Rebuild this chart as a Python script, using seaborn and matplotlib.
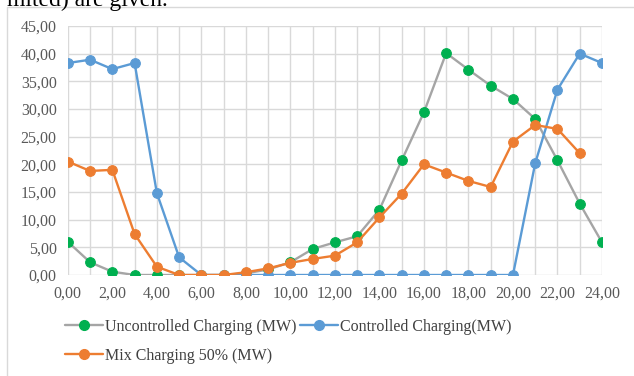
import pandas as pd
import seaborn as sns
import matplotlib.pyplot as plt
from matplotlib.patches import Rectangle
from matplotlib.lines import Line2D

hours = list(range(25))
uncontrolled = [6.0, 2.3, 0.6, 0.0, 0.0, 0.0, 0.0, 0.0, 0.3, 1.0, 2.3, 4.7, 5.9, 7.0, 11.8, 20.7,
                29.4, 40.1, 37.1, 34.2, 31.8, 28.2, 20.7, 12.9, 5.9]
controlled = [38.3, 38.9, 37.2, 38.3, 14.8, 3.2, 0.0, 0.0, 0.0, 0.0, 0.0, 0.0, 0.0, 0.0, 0.0, 0.0,
              0.0, 0.0, 0.0, 0.0, 0.0, 20.2, 33.5, 40.0, 38.3]
mix_hours = list(range(24))
mix = [20.5, 18.8, 19.0, 7.4, 1.5, 0.0, 0.0, 0.0, 0.5, 1.2, 2.2, 2.9, 3.5, 5.9, 10.4, 14.7,
       20.0, 18.5, 17.0, 15.9, 24.1, 27.1, 26.4, 22.0]

xticks = list(range(0, 25, 2))
xtick_labels = ['0,00', '2,00', '4,00', '6,00', '8,00', '10,00', '12,00', '14,00', '16,00',
                '18,00', '20,00', '22,00', '24,00']
yticks = list(range(0, 50, 5))
ytick_labels = ['0,00', '5,00', '10,00', '15,00', '20,00', '25,00', '30,00', '35,00', '40,00', '45,00']

labels = ['Uncontrolled Charging (MW)', 'Controlled Charging(MW)', 'Mix Charging 50% (MW)']

sns.set_style("white")
plt.rcParams['font.family'] = ['Liberation Serif', 'DejaVu Serif']

fig = plt.figure(figsize=(6.34, 3.76), dpi=100)
ax = fig.add_axes([0.107, 0.2686, 0.8425, 0.6624])

green, gray, blue, orange = '#00b050', '#a5a5a5', '#5b9bd5', '#ed7d31'
lw, ms = 1.7, 7

sns.lineplot(x=hours, y=uncontrolled, ax=ax, color=gray, lw=lw, marker='o', ms=ms,
             markerfacecolor=green, markeredgecolor=green, zorder=3)
sns.lineplot(x=hours, y=controlled, ax=ax, color=blue, lw=lw, marker='o', ms=ms,
             markerfacecolor=blue, markeredgecolor=blue, zorder=4)
sns.lineplot(x=mix_hours, y=mix, ax=ax, color=orange, lw=lw, marker='o', ms=ms,
             markerfacecolor=orange, markeredgecolor=orange, zorder=5)

ax.set_xlim(0, 24)
ax.set_ylim(0, 45)
ax.set_xticks(hours, minor=True)
ax.set_xticks(xticks)
ax.set_xticklabels(xtick_labels)
ax.set_yticks(yticks)
ax.set_yticklabels(ytick_labels)
ax.grid(True, which='both', color='#d9d9d9', lw=1.0)
ax.set_axisbelow(True)
for s in ax.spines.values():
    s.set_visible(False)
ax.tick_params(axis='both', which='both', length=0, labelsize=11.5, colors='#595959', pad=8)
ax.set_xlabel('')
ax.set_ylabel('')

handles = [
    Line2D([], [], color=gray, lw=lw, marker='o', ms=ms, markerfacecolor=green, markeredgecolor=green),
    Line2D([], [], color=orange, lw=lw, marker='o', ms=ms, markerfacecolor=orange, markeredgecolor=orange),
    Line2D([], [], color=blue, lw=lw, marker='o', ms=ms, markerfacecolor=blue, markeredgecolor=blue),
]
fig.legend(handles, [labels[0], labels[2], labels[1]], ncol=2, loc='upper left',
           bbox_to_anchor=(0.08, 0.19), frameon=False, fontsize=11.5, handlelength=2.4,
           handletextpad=0.1, columnspacing=0.2, labelspacing=0.8, labelcolor='#404040')

# outer chart frame
fig.patches.append(Rectangle((7 / 634, -0.1), 1.1, 1 - 7 / 376 + 0.1, transform=fig.transFigure,
                             fill=False, ec='#d9d9d9', lw=1.0))
# clipped document text above the chart
fig.text(7 / 634, 1.0, 'mited) are given.', fontsize=17, va='center', ha='left', color='black')

plt.savefig('out.png', dpi=100)
plt.close()
